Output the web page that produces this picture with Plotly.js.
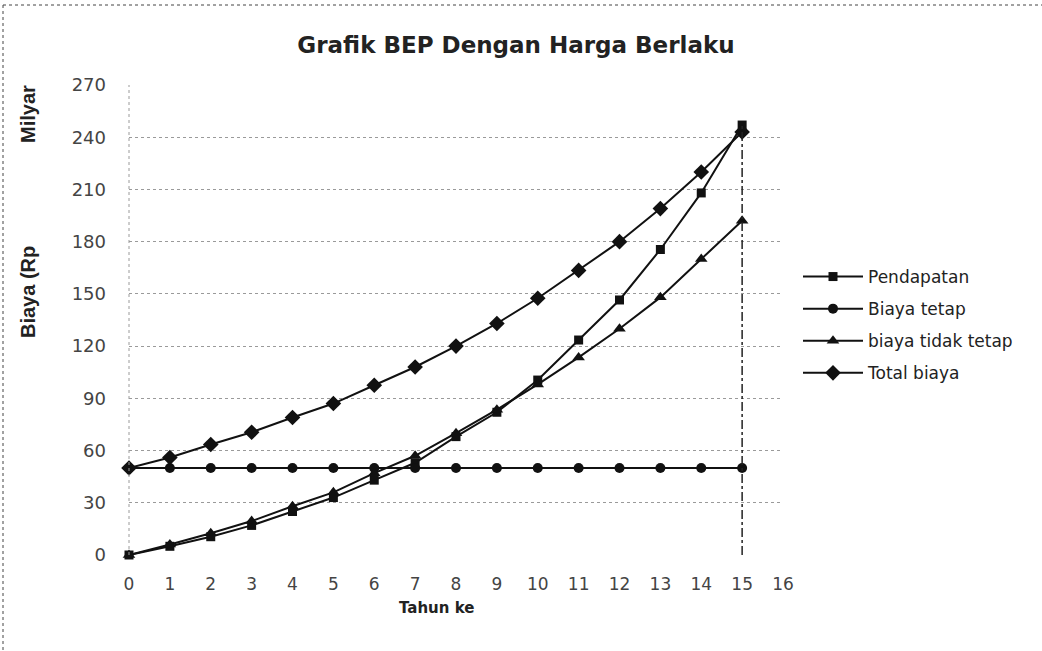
<!DOCTYPE html>
<html>
<head>
<meta charset="utf-8">
<script src="https://cdn.plot.ly/plotly-3.0.1.min.js"></script>
<style>
  html, body { margin: 0; padding: 0; background: #ffffff; }
  #chart { width: 1042px; height: 651px; }
</style>
</head>
<body>
<div id="chart"></div>
<script>
// ---- Data ----
const tahun = [0, 1, 2, 3, 4, 5, 6, 7, 8, 9, 10, 11, 12, 13, 14, 15];
const pendapatan = [0, 5, 10.5, 17, 25, 33, 43, 53, 68, 82, 100.5, 123.5, 146.5, 175.5, 208, 247];
const biayaTetap = [50, 50, 50, 50, 50, 50, 50, 50, 50, 50, 50, 50, 50, 50, 50, 50];
const biayaTidakTetap = [0, 6, 12.5, 19.5, 28, 36, 47, 57, 70, 83.5, 98, 113.5, 130, 148, 170, 192];
const totalBiaya = [50, 56, 63.5, 70.5, 79, 87, 97.5, 108, 120, 133, 147.5, 163.5, 180, 199, 220, 243];
const seriesNames = ["Pendapatan", "Biaya tetap", "biaya tidak tetap", "Total biaya"];
const xTicks = [0, 1, 2, 3, 4, 5, 6, 7, 8, 9, 10, 11, 12, 13, 14, 15, 16];
const yTicks = [0, 30, 60, 90, 120, 150, 180, 210, 240, 270];
const bepYear = 15;

// ---- Layout geometry ----
const W = 1042, H = 651;
const M = { l: 129, r: 259, t: 85, b: 96 };
const pw = W - M.l - M.r, ph = H - M.t - M.b;
const px = v => (v - M.l) / pw;          // pixel x -> paper x
const py = v => (H - M.b - v) / ph;      // pixel y -> paper y

const FONT = "DejaVu Sans, Liberation Sans, Arial, sans-serif";
const FONT_B = "Liberation Sans, Arial, sans-serif";

function series(name, y, symbol, size, group) {
  return {
    x: tahun, y: y, name: name, type: "scatter", mode: "lines+markers",
    legendgroup: group,
    line: { color: "#111111", width: 2 },
    marker: { symbol: symbol, size: size, color: "#111111" },
    cliponaxis: false
  };
}

const bepIdx = tahun.indexOf(bepYear);
const traces = [
  series(seriesNames[0], pendapatan, "square", 9, "a"),
  series(seriesNames[1], biayaTetap, "circle", 10, "b"),
  series(seriesNames[2], biayaTidakTetap, "triangle-up", 11, "c"),
  series(seriesNames[3], totalBiaya, "diamond", 12, "d"),
  {
    x: [bepYear, bepYear], y: [0, pendapatan[bepIdx]],
    type: "scatter", mode: "lines", showlegend: false, hoverinfo: "skip",
    line: { color: "#222222", width: 1.5, dash: "dashdot" }, cliponaxis: false
  }
];

const layout = {
  width: W, height: H,
  margin: M,
  paper_bgcolor: "#ffffff", plot_bgcolor: "#ffffff",
  font: { family: FONT, color: "#222222" },
  showlegend: true,
  title: {
    text: "<b>Grafik BEP Dengan Harga Berlaku</b>",
    font: { family: FONT, size: 23, color: "#222222" },
    x: 516 / W, xanchor: "center",
    y: 1 - 45 / H, yanchor: "middle"
  },
  xaxis: {
    range: [0, 16],
    tickmode: "array", tickvals: xTicks, ticktext: xTicks.map(String),
    showgrid: false, zeroline: false, showline: false,
    ticks: "", ticklabelstandoff: 17,
    tickfont: { family: FONT, size: 17, color: "#444444" },
    title: { text: "" }
  },
  yaxis: {
    range: [0, 270],
    tickmode: "array", tickvals: yTicks, ticktext: yTicks.map(String),
    showgrid: true, gridcolor: "#9a9a9a", griddash: "dot", gridwidth: 1,
    zeroline: false, showline: false,
    ticks: "", ticklabelstandoff: 22,
    tickfont: { family: FONT, size: 18, color: "#444444" }
  },
  legend: {
    x: px(798), y: py(259), xanchor: "left", yanchor: "top",
    font: { family: FONT, size: 17, color: "#222222" },
    bgcolor: "rgba(0,0,0,0)", borderwidth: 0,
    tracegroupgap: 7, itemwidth: 60
  },
  annotations: [
    { text: "<b>Tahun ke</b>", xref: "paper", yref: "paper",
      x: px(436), y: py(608), xanchor: "center", yanchor: "middle", showarrow: false,
      font: { family: FONT, size: 15, color: "#222222" } },
    { text: "<b>Biaya (Rp</b>", textangle: -90, xref: "paper", yref: "paper",
      x: px(28), y: py(292), xanchor: "center", yanchor: "middle", showarrow: false,
      font: { family: FONT_B, size: 20, color: "#222222" } },
    { text: "<b>Milyar</b>", textangle: -90, xref: "paper", yref: "paper",
      x: px(28), y: py(114), xanchor: "center", yanchor: "middle", showarrow: false,
      font: { family: FONT_B, size: 20, color: "#222222" } }
  ],
  shapes: [
    // dotted vertical axis line at left of the plot area
    { type: "line", xref: "paper", yref: "paper", x0: 0, x1: 0, y0: 0, y1: 1,
      line: { color: "#9a9a9a", width: 1, dash: "dot" } },
    // outer frame (top and left edges of the scanned chart)
    { type: "line", xref: "paper", yref: "paper", x0: px(3), x1: px(W), y0: py(5), y1: py(5),
      line: { color: "#444444", width: 1, dash: "dot" } },
    { type: "line", xref: "paper", yref: "paper", x0: px(3), x1: px(3), y0: py(5), y1: py(H),
      line: { color: "#444444", width: 1, dash: "dot" } }
  ]
};

Plotly.newPlot("chart", traces, layout, { displayModeBar: false, staticPlot: true });
</script>
</body>
</html>
